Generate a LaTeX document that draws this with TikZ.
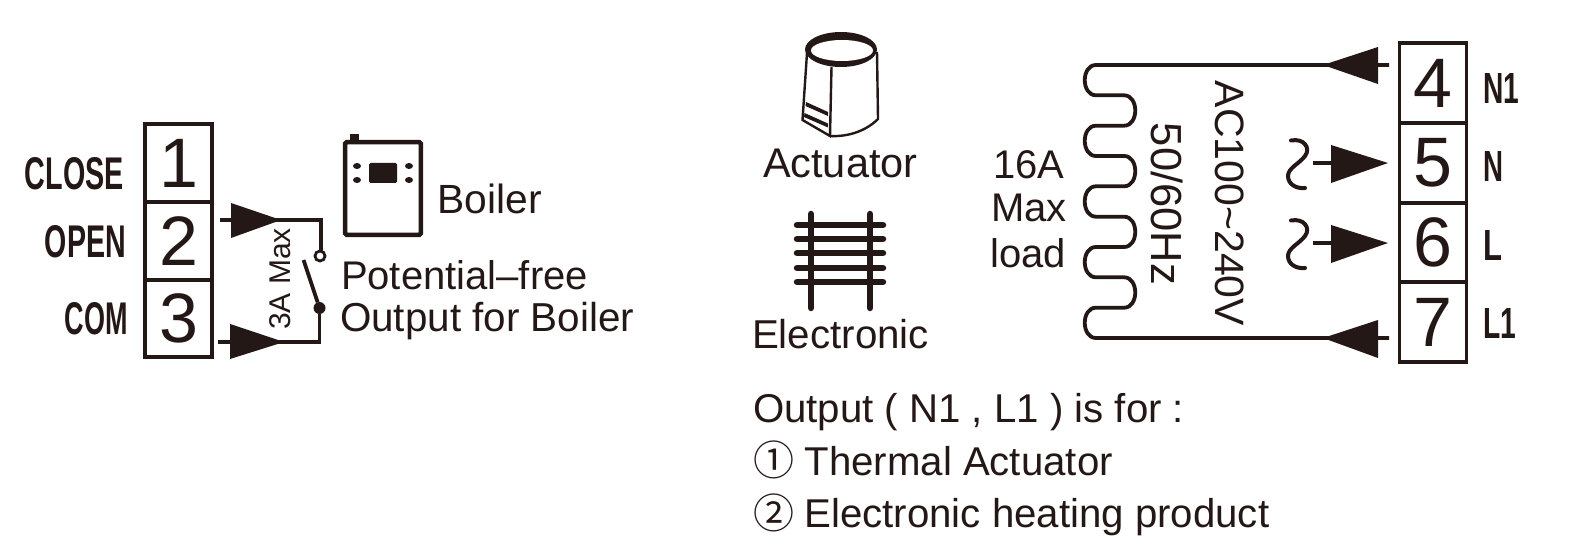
\documentclass[tikz,border=0pt]{standalone}
\usepackage{fontspec}
\setmainfont{Liberation Sans}
\newfontfamily\cjkglyph{Noto Sans CJK SC}
\definecolor{ink}{HTML}{231815}
\newcommand{\fs}[1]{\fontsize{#1pt}{#1pt}\selectfont}
\tikzset{
  cellbox/.style={draw=ink,line width=3.2pt,minimum width=67pt,inner sep=0pt,outer sep=0pt,font=\fs{70},text=ink},
  txt/.style={anchor=base west,inner sep=0pt,outer sep=0pt,text=ink,font=\fs{40}},
  txtc/.style={anchor=center,inner sep=0pt,outer sep=0pt,text=ink,font=\fs{40}},
  wire/.style={draw=ink,line width=3.8pt},
  tri/.style={fill=ink,draw=none},
  heavy/.style={draw=ink,line width=6.5pt,line cap=round},
  hair/.style={draw=ink,line width=2.4pt}
}
\newcommand{\tagtext}[3]{\resizebox{#1pt}{#2pt}{\bfseries #3}}
\begin{document}
\begin{tikzpicture}[x=1pt,y=-1pt]
\useasboundingbox (0,0) rectangle (1570,545);
% left terminals
\node[cellbox,minimum height=78pt] (t1) at (178.5,163) {1};
\node[cellbox,minimum height=78pt] (t2) at (178.5,241) {2};
\node[cellbox,minimum height=77pt] (t3) at (178.5,318.5) {3};
\node[anchor=east,inner sep=0pt,text=ink] (lclose) at (124,174) {\tagtext{99}{32}{CLOSE}};
\node[anchor=east,inner sep=0pt,text=ink] (lopen) at (126,242) {\tagtext{81}{32}{OPEN}};
\node[anchor=east,inner sep=0pt,text=ink] (lcom) at (128,319) {\tagtext{63}{32}{COM}};
% boiler wiring
\coordinate (a2s) at (220,220); \coordinate (a2t) at (281,220);
\coordinate (c2) at (321,220);
\coordinate (a3s) at (218,342); \coordinate (a3t) at (284,342);
\coordinate (c3) at (319.5,342);
\node[circle,draw=ink,line width=2.8pt,minimum size=10pt,inner sep=0pt,outer sep=0pt] (nc) at (320,256) {};
\node[circle,fill=ink,minimum size=12pt,inner sep=0pt,outer sep=0pt] (no) at (319.5,308) {};
\coordinate (blade) at (303.5,260);
\draw[wire] (a2s) -- (a2t) -- (c2) -- (c2 |- nc.north);
\draw[wire] (a3s) -- (a3t) -- (c3) -- (no);
\draw[wire] (blade) -- (no);
\fill[tri] (a2t) -- (231,203) -- (231,238) -- cycle;
\fill[tri] (a3t) -- (230,324) -- (230,359) -- cycle;
\node[txtc,font=\fs{30},rotate=90] (max3) at (280,279) {3A Max};
% boiler icon
\draw[ink,line width=4.5pt,rounded corners=1.5pt] (345.2,142.2) rectangle (420.8,234.8);
\fill[ink] (350,134) rectangle (359,141);
\fill[ink,rounded corners=1.5pt] (369,163) rectangle (397,183);
\foreach \dx/\dy in {357/166,357/180,409/166,409/180}{\fill[ink] (\dx,\dy) ellipse (4pt and 3pt);}
\node[txt,font=\fs{40.8}] (boiler) at (437.5,214) {Boiler};
\node[txt,font=\fs{40}] (pf) at (341,289) {Potential–free};
\node[txt,font=\fs{40.4}] (ofb) at (340,331) {Output for Boiler};
% actuator
\draw[hair] (807,53) -- (802.5,120) -- (830,136) -- (831.5,67);
\draw[hair] (877,52) -- (878,119) .. controls (866,131) and (848,137) .. (830,136);
\fill[ink] (806,102) -- (828,112) -- (828,116) -- (805.5,106) -- cycle;
\fill[ink] (804.5,113) -- (828,123.5) -- (828,127.5) -- (804,117) -- cycle;
\fill[ink] (841,49.5) ellipse (36pt and 17.5pt);
\fill[white] (842,50.5) ellipse (31pt and 10.5pt);
\node[txt,font=\fs{41.5}] (act) at (763,178) {Actuator};
% electronic
\foreach \x in {811,870}{\draw[heavy] (\x,214) -- (\x,308);}
\foreach \y in {225,239,253,268,282}{\draw[heavy] (797,\y) -- (883,\y);}
\node[txt,font=\fs{40.3}] (elec) at (752,348) {Electronic};
% load
\node[txtc] (a16) at (1029,164.5) {16A};
\node[txt,anchor=base] (amax) at (1029,222) {Max};
\node[txt,anchor=base] (aload) at (1028,267) {load};
\node[txtc,font=\fs{43.5},rotate=-90] (hz) at (1167,204) {50/60Hz};
\node[txtc,font=\fs{41},rotate=-90] (ac) at (1230,203.5) {AC100\char`~240V};
% right terminals
\node[cellbox,minimum height=80pt] (t4) at (1433,83) {4};
\node[cellbox,minimum height=80pt] (t5) at (1433,163) {5};
\node[cellbox,minimum height=79pt] (t6) at (1433,242.5) {6};
\node[cellbox,minimum height=80pt] (t7) at (1433,322) {7};
\node[anchor=west,inner sep=0pt,text=ink] (ln1) at (1483,88) {\tagtext{36}{30}{N1}};
\node[anchor=west,inner sep=0pt,text=ink] (ln) at (1483,166) {\tagtext{20}{30}{N}};
\node[anchor=west,inner sep=0pt,text=ink] (ll) at (1483,245) {\tagtext{19}{30}{L}};
\node[anchor=west,inner sep=0pt,text=ink] (ll1) at (1483,323) {\tagtext{33}{30}{L1}};
% coil and lines
\coordinate (a4e) at (1389,65); \coordinate (a4t) at (1323,65);
\coordinate (a7e) at (1389,338); \coordinate (a7t) at (1323,338);
\draw[wire] (a4e) -- (a4t) -- (1096,65)
 .. controls (1081,65) and (1081,95.3) .. (1096,95.3) -- (1124,95.3)
 .. controls (1139,95.3) and (1139,125.7) .. (1124,125.7) -- (1096,125.7)
 .. controls (1081,125.7) and (1081,156) .. (1096,156) -- (1124,156)
 .. controls (1139,156) and (1139,186.3) .. (1124,186.3) -- (1096,186.3)
 .. controls (1081,186.3) and (1081,216.7) .. (1096,216.7) -- (1124,216.7)
 .. controls (1139,216.7) and (1139,247) .. (1124,247) -- (1096,247)
 .. controls (1081,247) and (1081,277.3) .. (1096,277.3) -- (1124,277.3)
 .. controls (1139,277.3) and (1139,307.7) .. (1124,307.7) -- (1096,307.7)
 .. controls (1081,307.7) and (1081,338) .. (1096,338) -- (a7t) -- (a7e);
\fill[tri] (a4t) -- (1378,47) -- (1378,84) -- cycle;
\fill[tri] (a7t) -- (1378,320) -- (1378,358) -- cycle;
% supply arrows
\foreach \oy in {0,80}{
  \begin{scope}[yshift=-\oy pt]
  \draw[wire] (1313,163) -- (1335,163);
  \fill[tri] (1388,163) -- (1331,145) -- (1331,183) -- cycle;
  \draw[ink,line width=4pt,line cap=round] (1291,140.5) .. controls (1304,138) and (1311,148) .. (1305,156)
     .. controls (1299,164) and (1288,168) .. (1288,176) .. controls (1288,184) and (1296,189) .. (1305,188);
  \end{scope}
}
% notes
\node[txt,font=\fs{40.2}] (n1) at (753,422) {Output ( N1 , L1 ) is for :};
\node[anchor=base west,inner sep=0pt,text=ink,font=\cjkglyph\fs{41}] (c1) at (753,475) {①};
\node[txt,font=\fs{40.2}] (n2) at (804.5,475) {Thermal Actuator};
\node[anchor=base west,inner sep=0pt,text=ink,font=\cjkglyph\fs{41}] (c2n) at (753,528) {②};
\node[txt,font=\fs{40.2}] (n3) at (804.5,527.5) {Electronic heating product};
\end{tikzpicture}
\end{document}
